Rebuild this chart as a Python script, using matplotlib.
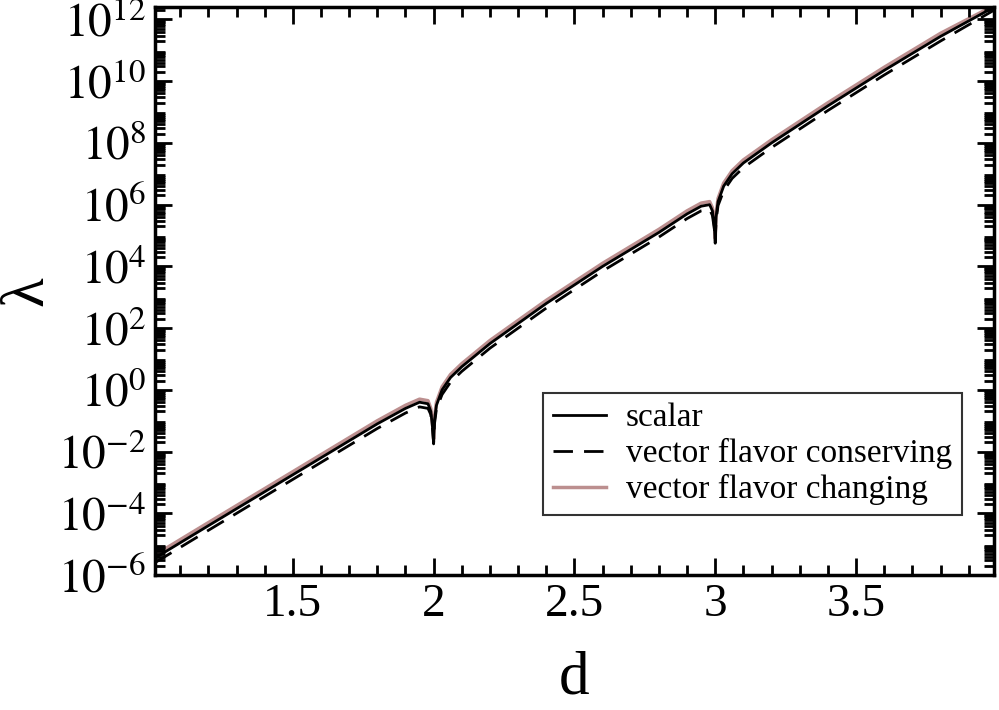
import matplotlib
matplotlib.use("Agg")
import matplotlib.pyplot as plt
from matplotlib.ticker import LogLocator, MultipleLocator, FixedLocator, NullFormatter

plt.rcParams['font.family'] = ['Liberation Serif', 'DejaVu Serif']
plt.rcParams['mathtext.fontset'] = 'stix'

# d values and log10(lambda) per curve
d = [1.01, 1.2, 1.4, 1.6, 1.8, 1.9, 1.95, 1.98, 1.99, 1.997, 2.0, 2.003, 2.01, 2.03, 2.06, 2.1,
     2.2, 2.4, 2.6, 2.8, 2.9, 2.95, 2.98, 2.99, 2.997, 3.0, 3.003, 3.01, 3.03, 3.06, 3.1,
     3.2, 3.4, 3.6, 3.8, 3.99]
scalar = [-5.45, -4.4, -3.3, -2.2, -1.1, -0.6, -0.4, -0.45, -0.7, -1.3, -1.7, -1.0, -0.5, 0.0, 0.4, 0.75,
          1.5, 2.8, 4.0, 5.1, 5.7, 5.95, 6.0, 5.8, 5.3, 4.8, 5.6, 6.1, 6.6, 7.0, 7.35,
          8.0, 9.2, 10.35, 11.45, 12.4]
vec_cons = [-5.6, -4.55, -3.45, -2.35, -1.25, -0.75, -0.55, -0.6, -0.8, -1.35, -1.75, -1.1, -0.62, -0.15, 0.25, 0.6,
            1.35, 2.65, 3.85, 4.95, 5.55, 5.8, 5.85, 5.65, 5.2, 4.75, 5.48, 5.97, 6.45, 6.85, 7.2,
            7.85, 9.05, 10.2, 11.3, 12.3]
vec_chg = [-5.35, -4.3, -3.2, -2.1, -1.0, -0.5, -0.3, -0.35, -0.6, -1.2, -1.6, -0.9, -0.4, 0.1, 0.5, 0.85,
           1.6, 2.9, 4.1, 5.2, 5.8, 6.05, 6.1, 5.9, 5.4, 4.9, 5.7, 6.2, 6.7, 7.1, 7.45,
           8.1, 9.3, 10.45, 11.55, 12.45]

fig = plt.figure(figsize=(9.99, 7.10), dpi=100)
ax = fig.add_axes([0.155, 0.19, 0.84, 0.80])

ax.plot(d, [10 ** v for v in vec_chg], color='#bc8f8f', lw=2.5, label='vector flavor changing', zorder=1)
ax.plot(d, [10 ** v for v in scalar], color='black', lw=2, label='scalar', zorder=2)
ax.plot(d, [10 ** v for v in vec_cons], color='black', lw=2, dashes=(7, 4), label='vector flavor conserving', zorder=3)

ax.set_yscale('log')
ax.set_xlim(1.01, 3.99)
ax.set_ylim(1e-6, 10 ** 12.4)
ax.xaxis.set_major_locator(FixedLocator([1.5, 2, 2.5, 3, 3.5]))
ax.xaxis.set_minor_locator(MultipleLocator(0.1))
ax.set_xticklabels(['1.5', '2', '2.5', '3', '3.5'])
ax.yaxis.set_major_locator(FixedLocator([10.0 ** k for k in range(-6, 13, 2)]))
ax.yaxis.set_minor_locator(LogLocator(base=10, subs=range(2, 10), numticks=100))
ax.yaxis.set_minor_formatter(NullFormatter())
ax.set_yticklabels(['$10^{%d}$' % k for k in range(-6, 13, 2)])

ax.tick_params(which='both', direction='in', top=True, right=True, width=2)
ax.tick_params(which='major', length=12, labelsize=34, pad=6)
ax.tick_params(which='minor', length=7)
for s in ax.spines.values():
    s.set_linewidth(2.5)

ax.set_xlabel('d', fontsize=44, labelpad=18)
ax.set_ylabel('λ', fontsize=44, labelpad=2)

h, l = ax.get_legend_handles_labels()
order = [1, 2, 0]
leg = ax.legend([h[i] for i in order], [l[i] for i in order], loc='lower right',
                bbox_to_anchor=(0.962, 0.105), fontsize=24, frameon=True,
                fancybox=False, edgecolor='black', handlelength=1.6, borderpad=0.3,
                labelspacing=0.15, handletextpad=0.6, borderaxespad=0)
leg.get_frame().set_linewidth(1.5)

fig.savefig('out.png', dpi=100)
